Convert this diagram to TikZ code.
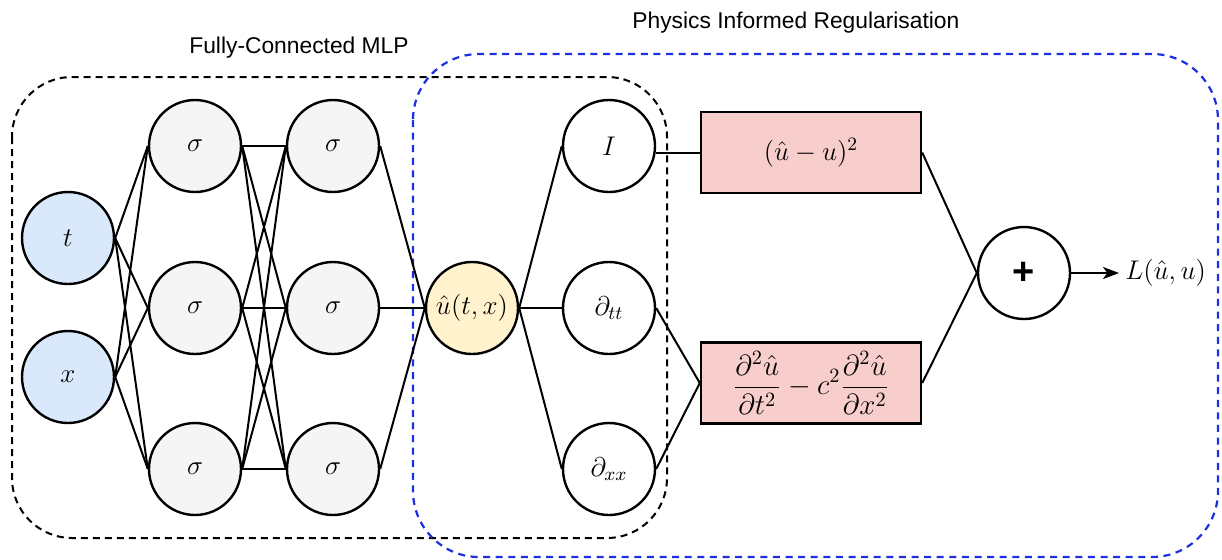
\RequirePackage{fix-cm}
\documentclass[tikz,border=0pt]{standalone}
\usepackage{fontspec}
\newfontfamily\labelfont{Liberation Sans}
\usetikzlibrary{arrows.meta}

\definecolor{inputfill}{HTML}{DAE8FC}
\definecolor{hiddenfill}{HTML}{F5F5F5}
\definecolor{outputfill}{HTML}{FFF2CC}
\definecolor{lossfill}{HTML}{F8CECC}
\definecolor{regblue}{RGB}{28,48,226}

\tikzset{
  neuron/.style={circle, draw=black, line width=1.2pt, minimum size=46pt, inner sep=0pt,
                 font=\fontsize{13.5}{16}\selectfont},
  inputnode/.style={neuron, fill=inputfill},
  hiddennode/.style={neuron, fill=hiddenfill},
  outputnode/.style={neuron, fill=outputfill},
  opnode/.style={neuron, fill=white},
  lossbox/.style={rectangle, draw=black, line width=1.2pt, fill=lossfill,
                  minimum width=110pt, minimum height=40.5pt, inner sep=0pt,
                  font=\fontsize{13.5}{16}\selectfont},
  link/.style={line width=1pt, black},
  grouptitle/.style={font=\labelfont\fontsize{11.4}{13}\selectfont, inner sep=0pt},
  mlpframe/.style={draw=black, line width=1pt, dash pattern=on 3.5pt off 2.5pt, rounded corners=30pt},
  regframe/.style={draw=regblue, line width=1.1pt, dash pattern=on 3.5pt off 2.8pt, rounded corners=33pt}
}

\begin{document}
\begin{tikzpicture}[x=0.5pt, y=-0.5pt]
  \useasboundingbox (0,0) rectangle (1222,559);

  % group frames
  \draw[mlpframe] (12,77) rectangle (667,538);
  \draw[regframe] (413,54) rectangle (1218,557);

  % group titles
  \node[grouptitle, anchor=base] (mlptitle) at (299,53) {Fully-Connected MLP};
  \node[grouptitle, anchor=base west] (regtitle) at (632,28) {Physics Informed Regularisation};

  % input layer
  \node[inputnode] (t) at (68,238) {$t$};
  \node[inputnode] (x) at (68,377) {$x$};

  % hidden layers
  \foreach \i/\yy in {1/146, 2/308, 3/469} {
    \node[hiddennode] (a\i) at (195,\yy) {$\sigma$};
    \node[hiddennode] (b\i) at (333,\yy) {$\sigma$};
  }

  % network output
  \node[outputnode] (u) at (472,308) {$\hat{u}(t,x)$};

  % operators
  \node[opnode] (I) at (609,146) {$I$};
  \node[opnode] (dtt) at (609,308) {$\partial_{tt}$};
  \node[opnode] (dxx) at (609,469) {$\partial_{xx}$};

  % loss terms
  \node[lossbox] (data) at (811,152.5) {$(\hat{u}-u)^2$};
  \node[lossbox, font=\fontsize{14.5}{17}\selectfont] (pde) at (811,383)
    {$\displaystyle\frac{\partial^2\hat{u}}{\partial t^2}-c^2\frac{\partial^2\hat{u}}{\partial x^2}$};

  % sum and total loss
  \node[opnode, font=\labelfont\bfseries\fontsize{19}{20}\selectfont] (sum) at (1024,273) {+};
  \node[anchor=west, inner sep=3pt, font=\fontsize{13.5}{16}\selectfont] (loss) at (1119,273) {$L(\hat{u},u)$};

  % connections of the MLP
  \foreach \s in {t,x} \foreach \j in {1,2,3} \draw[link] (\s.east) -- (a\j.west);
  \foreach \i in {1,2,3} \foreach \j in {1,2,3} \draw[link] (a\i.east) -- (b\j.west);
  \foreach \i in {1,2,3} \draw[link] (b\i.east) -- (u.west);

  % regularisation branch
  \foreach \o in {I,dtt,dxx} \draw[link] (u.east) -- (\o.west);
  \draw[link] (data.west) -- (I.east |- data.west);
  \draw[link] (dtt.east) -- (pde.west);
  \draw[link] (dxx.east) -- (pde.west);
  \draw[link] (data.east) -- (sum.west);
  \draw[link] (pde.east) -- (sum.west);
  \draw[link, -{Stealth[length=8pt, width=6pt, inset=2.2pt]}] (sum.east) -- (loss.west);
\end{tikzpicture}
\end{document}
